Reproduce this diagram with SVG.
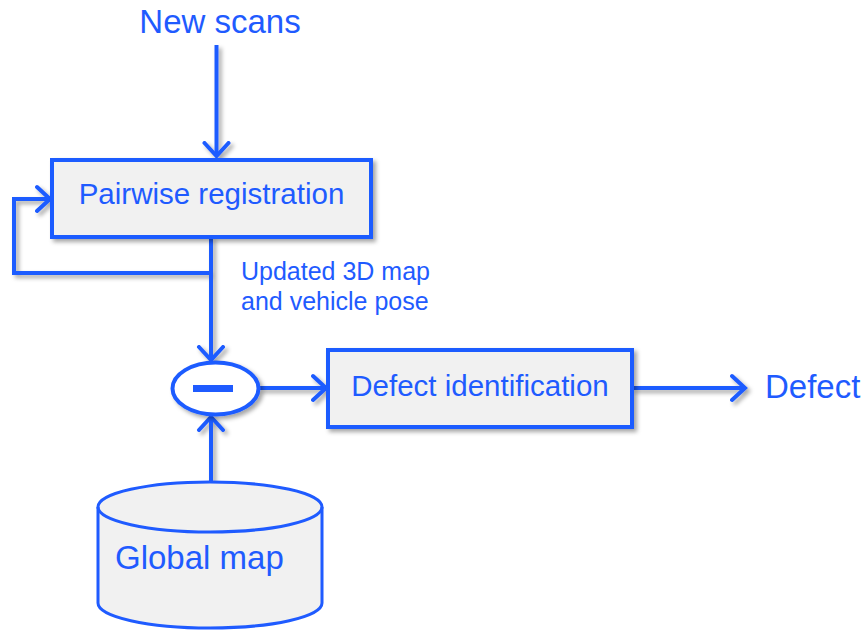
<svg xmlns="http://www.w3.org/2000/svg" width="866" height="631" viewBox="0 0 866 631">
  <style>
    .box { fill: #f1f1f1; stroke: #1f5bff; stroke-width: 4; }
    .wire { fill: none; stroke: #1f5bff; stroke-width: 4; stroke-linejoin: miter; }
    .lbl { font-family: "Liberation Sans", Arial, sans-serif; fill: #1f5bff; }
  </style>
  <defs>
    <filter id="shadow" x="-20%" y="-20%" width="140%" height="140%">
      <feDropShadow dx="3" dy="3" stdDeviation="2" flood-color="#000" flood-opacity="0.35"/>
    </filter>
    <marker id="arrow" markerUnits="userSpaceOnUse" markerWidth="20" markerHeight="30" viewBox="-15 -14 20 28" refX="0" refY="0" orient="auto">
      <path d="M-13,-12 L0,0 L-13,12" fill="none" stroke="#1f5bff" stroke-width="4" stroke-linecap="round" stroke-linejoin="miter"/>
    </marker>
  </defs>

  <rect width="866" height="631" fill="#ffffff"/>

  <!-- connectors -->
  <g id="connectors" filter="url(#shadow)">
    <path class="wire" d="M216.5,45 V156" marker-end="url(#arrow)"/>
    <path class="wire" d="M211,237 V273 H14 V199 H50" marker-end="url(#arrow)"/>
    <path class="wire" d="M211,273 V360" marker-end="url(#arrow)"/>
    <path class="wire" d="M211,482 V417" marker-end="url(#arrow)"/>
    <path class="wire" d="M259,388 H326" marker-end="url(#arrow)"/>
    <path class="wire" d="M632,388 H745" marker-end="url(#arrow)"/>
  </g>

  <g id="new-scans">
    <text class="lbl" x="220" y="33" font-size="33" text-anchor="middle">New scans</text>
  </g>

  <g id="pairwise-registration">
    <rect class="box" x="52" y="160" width="319" height="77" filter="url(#shadow)"/>
    <text class="lbl" x="211.5" y="204" font-size="29.5" text-anchor="middle">Pairwise registration</text>
  </g>

  <g id="update-label">
    <text class="lbl" x="241" y="280" font-size="25">Updated 3D map</text>
    <text class="lbl" x="241" y="310" font-size="25">and vehicle pose</text>
  </g>

  <g id="difference">
    <ellipse cx="215.5" cy="388.5" rx="43" ry="26" fill="#ffffff" stroke="#1f5bff" stroke-width="4" filter="url(#shadow)"/>
    <rect x="193" y="385" width="40" height="7" fill="#1f5bff"/>
  </g>

  <g id="defect-identification">
    <rect class="box" x="328" y="350" width="304" height="77" filter="url(#shadow)"/>
    <text class="lbl" x="480" y="396" font-size="29.5" text-anchor="middle">Defect identification</text>
  </g>

  <g id="defect">
    <text class="lbl" x="765" y="398" font-size="33">Defect</text>
  </g>

  <g id="global-map">
    <path d="M98,507 A112,25 0 0 1 322,507 V603 A112,25 0 0 1 98,603 Z" fill="#f1f1f1" stroke="#1f5bff" stroke-width="3"/>
    <path d="M98,507 A112,25 0 0 0 322,507" fill="none" stroke="#1f5bff" stroke-width="3"/>
    <text class="lbl" x="115" y="569" font-size="33">Global map</text>
  </g>
</svg>
